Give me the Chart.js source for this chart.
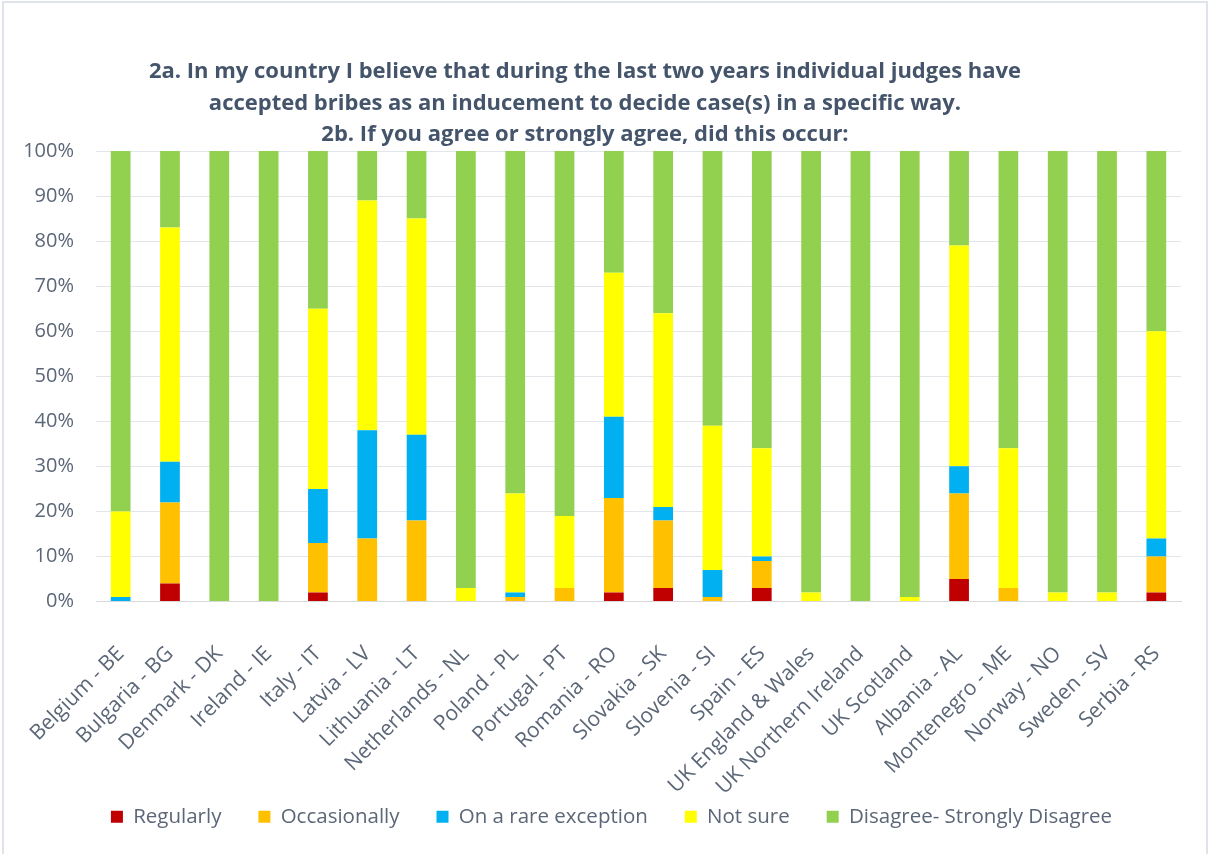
<!DOCTYPE html>
<html>
<head>
<meta charset="utf-8">
<script src="https://cdn.jsdelivr.net/npm/chart.js@4"></script>
<style>
  html, body { margin: 0; padding: 0; background: #fff; }
  #wrap { position: relative; width: 1210px; height: 854px; }
  #wrap:before { content: ""; position: absolute; left: 2px; top: 1px; right: 2px; bottom: -4px;
    border: 2px solid #DFE3EA; pointer-events: none; }
  canvas { display: block; }
</style>
</head>
<body>
<div id="wrap"><canvas id="chart" width="1210" height="854"></canvas></div>
<script>
// categories and series (percent of respondents)
const countries = ["Belgium - BE", "Bulgaria - BG", "Denmark - DK", "Ireland - IE", "Italy - IT",
  "Latvia - LV", "Lithuania - LT", "Netherlands - NL", "Poland - PL", "Portugal - PT",
  "Romania - RO", "Slovakia - SK", "Slovenia - SI", "Spain - ES", "UK England & Wales",
  "UK Northern Ireland", "UK Scotland", "Albania - AL", "Montenegro - ME", "Norway - NO",
  "Sweden - SV", "Serbia - RS"];

const regularly    = [0, 4, 0, 0, 2, 0, 0, 0, 0, 0, 2, 3, 0, 3, 0, 0, 0, 5, 0, 0, 0, 2];
const occasionally = [0, 18, 0, 0, 11, 14, 18, 0, 1, 3, 21, 15, 1, 6, 0, 0, 0, 19, 3, 0, 0, 8];
const rareException= [1, 9, 0, 0, 12, 24, 19, 0, 1, 0, 18, 3, 6, 1, 0, 0, 0, 6, 0, 0, 0, 4];
const notSure      = [19, 52, 0, 0, 40, 51, 48, 3, 22, 16, 32, 43, 32, 24, 2, 0, 1, 49, 31, 2, 2, 46];
const disagree     = [80, 17, 100, 100, 35, 11, 15, 97, 76, 81, 27, 36, 61, 66, 98, 100, 99, 21, 66, 98, 98, 40];

const titleLines = [
  "2a. In my country I believe that during the last two years individual judges have",
  "accepted bribes as an inducement to decide case(s) in a specific way.",
  "2b. If you agree or strongly agree, did this occur:"
];

const textColor = "#5B6677";
const titleColor = "#44546A";

// title drawn a bit left of centre, as in the original
const titlePlugin = {
  id: "titleLines",
  afterDraw(chart) {
    const ctx = chart.ctx;
    ctx.save();
    ctx.fillStyle = titleColor;
    ctx.font = "bold 22px 'Open Sans'";
    ctx.textAlign = "center";
    ctx.textBaseline = "middle";
    titleLines.forEach((t, i) => ctx.fillText(t, 585, 72 + i * 31.5));
    ctx.restore();
  }
};

// legend a little right of centre; let long x labels run into the legend band
const layoutTweak = {
  id: "layoutTweak",
  afterLayout(chart) {
    chart.legend.left += 17;
    chart.legend.right += 17;
    chart.scales.x.bottom = chart.height;
  }
};

function ds(label, data, color) {
  return { label: label, data: data, backgroundColor: color, borderWidth: 0 };
}

new Chart(document.getElementById("chart").getContext("2d"), {
  type: "bar",
  data: {
    labels: countries,
    datasets: [
      ds("Regularly", regularly, "#C00000"),
      ds("Occasionally", occasionally, "#FFC000"),
      ds("On a rare exception", rareException, "#00B0F0"),
      ds("Not sure", notSure, "#FFFF00"),
      ds("Disagree- Strongly Disagree", disagree, "#92D050")
    ]
  },
  options: {
    responsive: false,
    animation: false,
    datasets: { bar: { categoryPercentage: 1, barPercentage: 0.4 } },
    layout: { padding: { top: 151, left: 8, right: 29, bottom: 17 } },
    scales: {
      x: {
        stacked: true,
        grid: { display: false, drawTicks: false },
        border: { color: "#D9D9D9" },
        ticks: {
          color: textColor, font: { family: "Open Sans", size: 21 },
          minRotation: 45, maxRotation: 45, autoSkip: false, padding: 40
        },
        afterFit(s) { s.height = 168; s.paddingLeft = 0; s.paddingRight = 0; }
      },
      y: {
        stacked: true, min: 0, max: 100,
        grid: { color: "#E2E5EA", drawTicks: false },
        border: { display: false },
        ticks: {
          stepSize: 10, color: textColor, padding: 22,
          font: { family: "Open Sans", size: 20 },
          callback: v => v + "%"
        },
        afterFit(s) { s.width = 88; }
      }
    },
    plugins: {
      legend: {
        position: "bottom",
        labels: {
          color: textColor, font: { family: "Open Sans", size: 20.5 },
          boxWidth: 12, boxHeight: 12, padding: 37
        }
      },
      tooltip: { enabled: false }
    }
  },
  plugins: [titlePlugin, layoutTweak]
});
</script>
</body>
</html>
